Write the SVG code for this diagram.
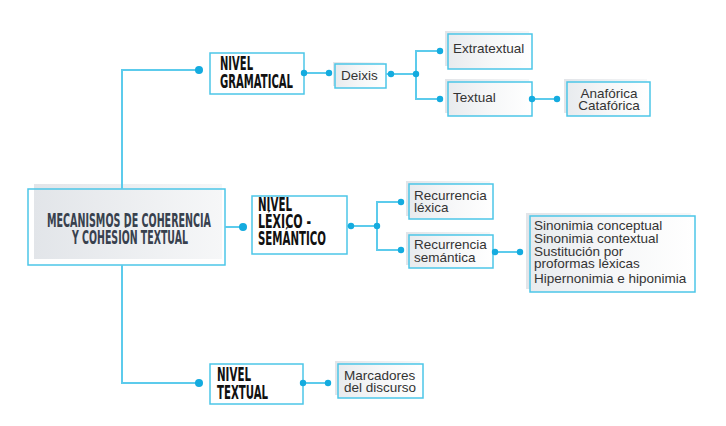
<svg xmlns="http://www.w3.org/2000/svg" width="726" height="426" viewBox="0 0 726 426">
<defs>
<linearGradient id="fill" x1="0" y1="0" x2="1" y2="0">
<stop offset="0" stop-color="#e8ebee"/>
<stop offset="0.5" stop-color="#f6f7f8"/>
<stop offset="1" stop-color="#ffffff"/>
</linearGradient>
<linearGradient id="shade" x1="0" y1="0" x2="1" y2="0">
<stop offset="0" stop-color="#e2e5e9"/>
<stop offset="1" stop-color="#f6f7f8"/>
</linearGradient>
</defs>
<style>
.conn{fill:none;stroke:#5ccbec;stroke-width:2}
.dot{fill:#14abdf}
.box{stroke:#4cc6e8;stroke-width:1.5}
.plain{fill:#ffffff}
.grad{fill:url(#fill)}
.shade{fill:url(#shade)}
.head{font-family:"Liberation Sans Narrow","DejaVu Sans Condensed","Liberation Sans",sans-serif;font-weight:bold;font-size:19px;fill:#111111}
.main{font-family:"Liberation Sans Narrow","DejaVu Sans Condensed","Liberation Sans",sans-serif;font-weight:bold;font-size:19px;fill:#38414e}
.lbl{font-family:"Liberation Sans",Arial,sans-serif;font-size:13.5px;fill:#333333}
</style>
<rect width="726" height="426" fill="#ffffff"/>

<g id="main">
<rect x="28" y="189" width="197" height="76" class="plain"/>
<rect x="34" y="184" width="188" height="75" class="shade"/>
<rect x="28" y="189" width="197" height="76" fill="none" class="box"/>
<text class="main" x="47" y="227" textLength="164" lengthAdjust="spacingAndGlyphs">MECANISMOS DE COHERENCIA</text>
<text class="main" x="72" y="244" textLength="116" lengthAdjust="spacingAndGlyphs">Y COHESIÓN TEXTUAL</text>
</g>

<g id="nivel-gramatical">
<rect x="210" y="53" width="94" height="41" class="box plain"/>
<text class="head" x="220" y="70" textLength="33" lengthAdjust="spacingAndGlyphs">NIVEL</text>
<text class="head" x="220" y="88" textLength="73" lengthAdjust="spacingAndGlyphs">GRAMATICAL</text>
</g>

<g id="deixis">
<rect x="333" y="62" width="51" height="24" class="shade"/>
<rect x="335" y="64" width="51" height="24" class="box grad"/>
<text class="lbl" x="341" y="80">Deixis</text>
</g>

<g id="extratextual">
<rect x="445" y="31" width="84" height="35" class="shade"/>
<rect x="448" y="34" width="84" height="35" class="box grad"/>
<text class="lbl" x="453" y="53">Extratextual</text>
</g>

<g id="textual">
<rect x="445" y="79" width="84" height="34" class="shade"/>
<rect x="448" y="82" width="84" height="34" class="box grad"/>
<text class="lbl" x="453" y="102">Textual</text>
</g>

<g id="anaforica">
<rect x="564" y="79" width="83" height="34" class="shade"/>
<rect x="567" y="82" width="83" height="34" class="box grad"/>
<text class="lbl" x="609" y="98" text-anchor="middle">Anafórica</text>
<text class="lbl" x="609" y="110" text-anchor="middle">Catafórica</text>
</g>

<g id="nivel-lexico">
<rect x="252" y="196" width="95" height="58" class="box plain"/>
<text class="head" x="258" y="211" textLength="34" lengthAdjust="spacingAndGlyphs">NIVEL</text>
<text class="head" x="258" y="228" textLength="53" lengthAdjust="spacingAndGlyphs">LÉXICO  -</text>
<text class="head" x="258" y="245" textLength="68" lengthAdjust="spacingAndGlyphs">SEMÁNTICO</text>
</g>

<g id="recurrencia-lexica">
<rect x="406" y="181" width="84" height="35" class="shade"/>
<rect x="409" y="184" width="84" height="35" class="box grad"/>
<text class="lbl" x="414" y="200">Recurrencia</text>
<text class="lbl" x="414" y="212">léxica</text>
</g>

<g id="recurrencia-semantica">
<rect x="406" y="232" width="84" height="33" class="shade"/>
<rect x="409" y="235" width="84" height="33" class="box grad"/>
<text class="lbl" x="414" y="249">Recurrencia</text>
<text class="lbl" x="414" y="262">semántica</text>
</g>

<g id="sinonimia">
<rect x="526" y="213" width="165" height="76" class="shade"/>
<rect x="530" y="216" width="165" height="76" class="box grad"/>
<text class="lbl" x="534" y="230">Sinonimia conceptual</text>
<text class="lbl" x="534" y="243">Sinonimia contextual</text>
<text class="lbl" x="534" y="256">Sustitución por</text>
<text class="lbl" x="534" y="268">proformas léxicas</text>
<text class="lbl" x="534" y="283">Hipernonimia e hiponimia</text>
</g>

<g id="nivel-textual">
<rect x="210" y="364" width="93" height="40" class="box plain"/>
<text class="head" x="217" y="381" textLength="34" lengthAdjust="spacingAndGlyphs">NIVEL</text>
<text class="head" x="217" y="399" textLength="51" lengthAdjust="spacingAndGlyphs">TEXTUAL</text>
</g>

<g id="marcadores">
<rect x="335" y="361" width="85" height="34" class="shade"/>
<rect x="338" y="364" width="85" height="34" class="box grad"/>
<text class="lbl" x="344" y="380">Marcadores</text>
<text class="lbl" x="344" y="392">del discurso</text>
</g>

<g id="connectors">
<path class="conn" d="M199,70 H122 V189"/>
<path class="conn" d="M122,265 V383 H199"/>
<path class="conn" d="M225,227 H243"/>
<path class="conn" d="M304,73 H329"/>
<path class="conn" d="M386,74 H416"/>
<path class="conn" d="M440,51 H416 V99 H440"/>
<path class="conn" d="M532,99 H557"/>
<path class="conn" d="M347,226 H377"/>
<path class="conn" d="M401,202 H377 V250 H401"/>
<path class="conn" d="M493,252 H520"/>
<path class="conn" d="M303,383 H328"/>
<circle class="dot" cx="199" cy="70" r="4"/>
<circle class="dot" cx="199" cy="383" r="4"/>
<circle class="dot" cx="243" cy="227" r="4"/>
<circle class="dot" cx="304" cy="73" r="3.2"/>
<circle class="dot" cx="329" cy="73" r="3.2"/>
<circle class="dot" cx="391" cy="74" r="3.2"/>
<circle class="dot" cx="416" cy="74" r="3.2"/>
<circle class="dot" cx="440" cy="51" r="3.2"/>
<circle class="dot" cx="440" cy="99" r="3.2"/>
<circle class="dot" cx="532" cy="99" r="3.2"/>
<circle class="dot" cx="557" cy="99" r="3.2"/>
<circle class="dot" cx="351" cy="226" r="3.2"/>
<circle class="dot" cx="377" cy="226" r="3.2"/>
<circle class="dot" cx="401" cy="202" r="3.2"/>
<circle class="dot" cx="401" cy="250" r="3.2"/>
<circle class="dot" cx="495" cy="252" r="3.2"/>
<circle class="dot" cx="520" cy="252" r="3.2"/>
<circle class="dot" cx="303" cy="383" r="3.2"/>
<circle class="dot" cx="328" cy="383" r="3.2"/>
</g>
</svg>
